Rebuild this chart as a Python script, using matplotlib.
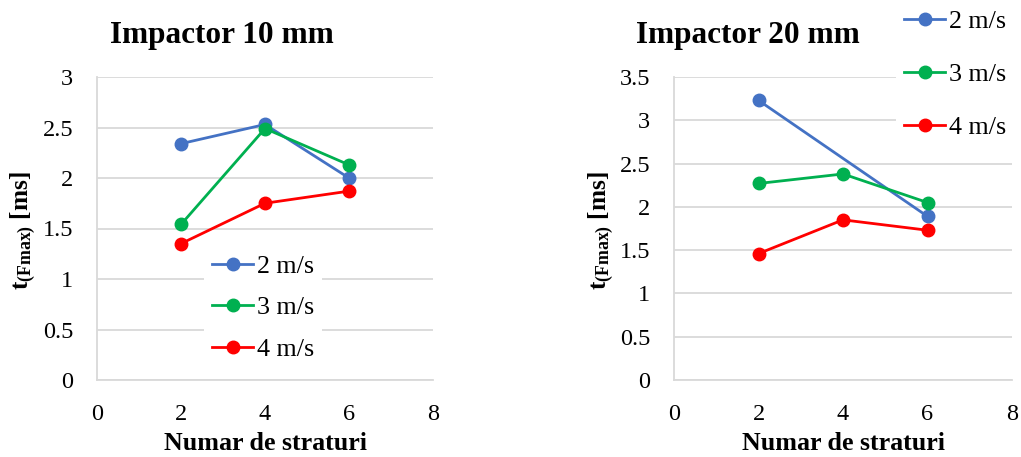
import matplotlib
matplotlib.use("Agg")
import matplotlib.pyplot as plt

plt.rcParams['font.family'] = ['Liberation Serif', 'DejaVu Serif']
plt.rcParams['mathtext.fontset'] = 'custom'
plt.rcParams['mathtext.rm'] = 'Liberation Serif'
plt.rcParams['mathtext.bf'] = 'Liberation Serif:bold'

# data
layers = [2, 4, 6]
series_labels = ["2 m/s", "3 m/s", "4 m/s"]
colors = ["#4472C4", "#00B050", "#FF0000"]

# Impactor 10 mm
i10_x = [layers, layers, layers]
i10_2ms = [2.34, 2.53, 2.00]
i10_3ms = [1.54, 2.49, 2.13]
i10_4ms = [1.35, 1.75, 1.87]

# Impactor 20 mm
i20_x = [[2, 6], layers, layers]
i20_2ms = [3.23, 1.89]
i20_3ms = [2.27, 2.38, 2.05]
i20_4ms = [1.46, 1.85, 1.73]

titles = ["Impactor 10 mm", "Impactor 20 mm"]
xlabel = "Numar de straturi"
ylabel = r"$\mathbf{t_{(Fmax)}}$ [ms]"

W, H = 1021, 457
fig = plt.figure(figsize=(W / 100, H / 100), dpi=100)

def fx(p):
    return p / W

def fy(p):
    return 1 - p / H

ax1 = fig.add_axes([fx(97), fy(380), fx(433 - 97), (380 - 77) / H])
ax2 = fig.add_axes([fx(674), fy(380), fx(1012 - 674), (380 - 77) / H])

grid_c = "#d9d9d9"
TICK = 17.5
LEG = 18.7

def style(ax, ymax, ystep):
    ax.set_xlim(0, 8)
    ax.set_ylim(0, ymax)
    ax.set_xticks([0, 2, 4, 6, 8])
    yt = [round(i * ystep, 2) for i in range(int(round(ymax / ystep)) + 1)]
    ax.set_yticks(yt)
    ax.set_yticklabels([("%g" % v) for v in yt])
    ax.grid(axis='y', color=grid_c, linewidth=1.3, zorder=0)
    ax.set_axisbelow(True)
    for s in ['top', 'right']:
        ax.spines[s].set_visible(False)
    for s in ['left', 'bottom']:
        ax.spines[s].set_color(grid_c)
        ax.spines[s].set_linewidth(1.3)
    ax.tick_params(axis='y', length=0, labelsize=TICK, pad=17)
    ax.tick_params(axis='x', length=0, labelsize=TICK, pad=17)

style(ax1, 3, 0.5)
style(ax2, 3.5, 0.5)

for xs, ys, c, lab in zip(i10_x, [i10_2ms, i10_3ms, i10_4ms], colors, series_labels):
    ax1.plot(xs, ys, color=c, lw=2.0, marker='o', ms=9, label=lab, zorder=3)
for xs, ys, c, lab in zip(i20_x, [i20_2ms, i20_3ms, i20_4ms], colors, series_labels):
    ax2.plot(xs, ys, color=c, lw=2.0, marker='o', ms=9, label=lab, zorder=3)

leg1 = ax1.legend(loc='upper left', bbox_to_anchor=(fx(204), fy(247)),
                  bbox_transform=fig.transFigure, fontsize=LEG, frameon=True,
                  fancybox=False, edgecolor='none', facecolor='white', framealpha=1,
                  handlelength=1.6, handletextpad=0.15, labelspacing=0.7,
                  borderpad=0.3, borderaxespad=0)
leg2 = ax2.legend(loc='upper left', bbox_to_anchor=(fx(896), fy(2)),
                  bbox_transform=fig.transFigure, fontsize=LEG, frameon=True,
                  fancybox=False, edgecolor='none', facecolor='white', framealpha=1,
                  handlelength=1.6, handletextpad=0.15, labelspacing=1.15,
                  borderpad=0.3, borderaxespad=0)

fig.text(fx(222), fy(35), titles[0], ha='center', va='center', fontsize=22.5, fontweight='bold')
fig.text(fx(748), fy(35), titles[1], ha='center', va='center', fontsize=22.5, fontweight='bold')

fig.text(fx(265), fy(444), xlabel, ha='center', va='center', fontsize=18.7, fontweight='bold')
fig.text(fx(843), fy(444), xlabel, ha='center', va='center', fontsize=18.7, fontweight='bold')

fig.text(fx(23), fy(231), ylabel, ha='center', va='center', rotation=90, fontsize=18.3, fontweight='bold')
fig.text(fx(601), fy(231), ylabel, ha='center', va='center', rotation=90, fontsize=18.3, fontweight='bold')

fig.savefig("out.png", dpi=100)
